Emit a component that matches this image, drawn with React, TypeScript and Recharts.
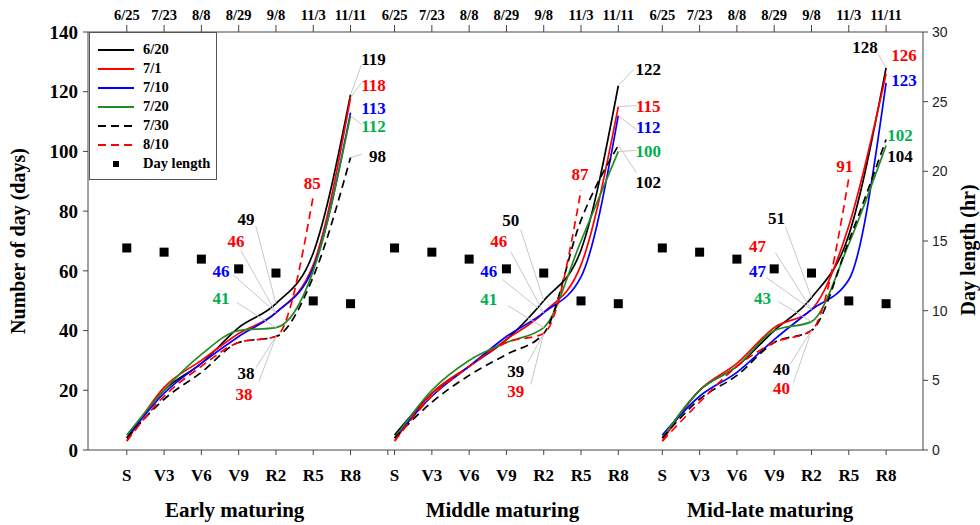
import React from "react";
import { ComposedChart, Line, Scatter, XAxis, YAxis, ReferenceDot, Legend } from "recharts";

const stages = ["S", "V3", "V6", "V9", "R2", "R5", "R8"];
const stageDates = ["6/25", "7/23", "8/8", "8/29", "9/8", "11/3", "11/11"];
const panels = ["Early maturing", "Middle maturing", "Mid-late maturing"];
const sowings = ["6/20", "7/1", "7/10", "7/20", "7/30", "8/10"];

// days after sowing at each stage
const early620 = [4, 20, 29, 41, 49, 66, 119];
const early701 = [3, 21, 30, 39, 46, 62, 118];
const early710 = [4, 19, 29, 38, 46, 61, 113];
const early720 = [5, 20, 32, 40, 41, 60, 112];
const early730 = [4, 17, 26, 36, 38, 58, 98];
const early810 = [3, 18, 28, 36, 38, 85, null];

const middle620 = [5, 19, 28, 37, 50, 67, 122];
const middle701 = [3, 19, 28, 37, 46, 62, 115];
const middle710 = [4, 18, 28, 38, 46, 58, 112];
const middle720 = [4, 20, 30, 36, 41, 70, 100];
const middle730 = [4, 16, 25, 32, 39, 77, 102];
const middle810 = [3, 18, 28, 36, 39, 87, null];

const late620 = [4, 20, 28, 40, 51, 72, 128];
const late701 = [3, 20, 29, 41, 47, 75, 126];
const late710 = [5, 18, 26, 37, 47, 57, 123];
const late720 = [4, 20, 28, 40, 43, 69, 102];
const late730 = [4, 17, 25, 36, 40, 70, 104];
const late810 = [3, 16, 28, 36, 40, 91, null];

const dayLength = [14.5, 14.2, 13.7, 13.0, 12.7, 10.7, 10.5];

const values = [
  [early620, early701, early710, early720, early730, early810],
  [middle620, middle701, middle710, middle720, middle730, middle810],
  [late620, late701, late710, late720, late730, late810],
];

const SERIF = "'Liberation Serif', 'Times New Roman', Times, serif";
const SANS = "'Liberation Sans', Arial, sans-serif";
const lineColors = ["#000000", "#ff0000", "#0000ff", "#228b22", "#000000", "#ff0000"];
const labelColors = ["#000000", "#ff0000", "#0000ff", "#00b050", "#000000", "#ff0000"];
const dashes = [undefined, undefined, undefined, undefined, "8 5", "8 5"];

// callouts: panel, series, stage, text offset, leader end offset
const callouts = [
  { p: 0, k: 0, s: 6, dx: 23, dy: -35, lx: 11, ly: -30 },
  { p: 0, k: 1, s: 6, dx: 23, dy: -12, lx: 11, ly: -15 },
  { p: 0, k: 2, s: 6, dx: 23, dy: -4 },
  { p: 0, k: 3, s: 6, dx: 23, dy: 11, lx: 11, ly: 9 },
  { p: 0, k: 4, s: 6, dx: 27, dy: -1, lx: 11, ly: -3 },
  { p: 0, k: 5, s: 5, dx: -1, dy: -13 },
  { p: 0, k: 0, s: 4, dx: -30, dy: -84, lx: -20, ly: -77 },
  { p: 0, k: 1, s: 4, dx: -40, dy: -71, lx: -35, ly: -62 },
  { p: 0, k: 2, s: 4, dx: -55, dy: -41, lx: -43, ly: -38 },
  { p: 0, k: 3, s: 4, dx: -55, dy: -29, lx: -39, ly: -25 },
  { p: 0, k: 4, s: 4, dx: -30, dy: 37, lx: -20, ly: 31 },
  { p: 0, k: 5, s: 4, dx: -32, dy: 58, lx: -17, ly: 45 },

  { p: 1, k: 0, s: 6, dx: 30, dy: -16, lx: 15, ly: -16 },
  { p: 1, k: 1, s: 6, dx: 30, dy: 0, lx: 18, ly: -1 },
  { p: 1, k: 2, s: 6, dx: 30, dy: 12, lx: 18, ly: 14 },
  { p: 1, k: 3, s: 6, dx: 30, dy: 0, lx: 18, ly: -1 },
  { p: 1, k: 4, s: 6, dx: 30, dy: 37, lx: 18, ly: 27 },
  { p: 1, k: 5, s: 5, dx: -1, dy: -16 },
  { p: 1, k: 0, s: 4, dx: -33, dy: -80, lx: -23, ly: -71 },
  { p: 1, k: 1, s: 4, dx: -45, dy: -71, lx: -33, ly: -61 },
  { p: 1, k: 2, s: 4, dx: -55, dy: -41, lx: -41, ly: -33 },
  { p: 1, k: 3, s: 4, dx: -55, dy: -28, lx: -36, ly: -22 },
  { p: 1, k: 4, s: 4, dx: -28, dy: 38, lx: -16, ly: 29 },
  { p: 1, k: 5, s: 4, dx: -28, dy: 58, lx: -13, ly: 51 },

  { p: 2, k: 0, s: 6, dx: -21, dy: -20, lx: -8, ly: -14 },
  { p: 2, k: 1, s: 6, dx: 18, dy: -18 },
  { p: 2, k: 2, s: 6, dx: 18, dy: -2 },
  { p: 2, k: 3, s: 6, dx: 14, dy: -10 },
  { p: 2, k: 4, s: 6, dx: 14, dy: 17 },
  { p: 2, k: 5, s: 5, dx: -4, dy: -12 },
  { p: 2, k: 0, s: 4, dx: -35, dy: -79, lx: -26, ly: -71 },
  { p: 2, k: 1, s: 4, dx: -54, dy: -63, lx: -36, ly: -57 },
  { p: 2, k: 2, s: 4, dx: -54, dy: -38, lx: -45, ly: -32 },
  { p: 2, k: 3, s: 4, dx: -49, dy: -23, lx: -33, ly: -20 },
  { p: 2, k: 4, s: 4, dx: -30, dy: 39, lx: -21, ly: 33 },
  { p: 2, k: 5, s: 4, dx: -30, dy: 58, lx: -18, ly: 52 },
];

const STEP = 7.18;
const xOf = (p: number, s: number) => p * STEP + s;

const rows = panels.flatMap((_, p) =>
  stages.map((_, s) => {
    const row: Record<string, number | null> = { x: xOf(p, s), day: dayLength[s] };
    sowings.forEach((_, k) => {
      row[`p${p}s${k}`] = values[p][k][s];
    });
    return row;
  })
);
const stageTicks = rows.map((r) => r.x as number);
const bottomTicks = [...stageTicks, 7].sort((a, b) => a - b);

function locate(v: number) {
  const p = Math.floor((v + 0.5) / STEP);
  const s = Math.round(v - p * STEP);
  const exact = Math.abs(v - xOf(p, s)) < 0.01;
  return { p, s, exact };
}

function BottomTick(props: any) {
  const { x, y, payload } = props;
  const { p, s, exact } = locate(payload.value);
  if (!exact) return <g />;
  return (
    <g>
      <text x={x} y={y + 20} textAnchor="middle" dominantBaseline="central" fontFamily={SERIF} fontWeight={700} fontSize={17} fill="#000">
        {stages[s]}
      </text>
      {s === 3 && (
        <text x={x - 4} y={y + 55} textAnchor="middle" dominantBaseline="central" fontFamily={SERIF} fontWeight={700} fontSize={21} fill="#000">
          {panels[p]}
        </text>
      )}
    </g>
  );
}

function TopTick(props: any) {
  const { x, y, payload } = props;
  const { s } = locate(payload.value);
  return (
    <text x={x} y={y - 10} textAnchor="middle" dominantBaseline="central" fontFamily={SERIF} fontWeight={700} fontSize={14.5} fill="#000">
      {stageDates[s]}
    </text>
  );
}

function AxisTitle(props: any) {
  const { viewBox, text, tx, ty } = props;
  const cx = viewBox.x + tx;
  const cy = viewBox.y + viewBox.height / 2 + ty;
  return (
    <text x={cx} y={cy} transform={`rotate(-90 ${cx} ${cy})`} textAnchor="middle" dominantBaseline="central" fontFamily={SERIF} fontWeight={700} fontSize={20} fill="#000">
      {text}
    </text>
  );
}

function Callout(props: any) {
  const { cx, cy, c, text, color } = props;
  return (
    <g>
      {c.lx !== undefined && (
        <line x1={cx} y1={cy} x2={cx + c.lx} y2={cy + c.ly} stroke="#c8c8c8" strokeWidth={1} />
      )}
      <text x={cx + c.dx} y={cy + c.dy} textAnchor="middle" dominantBaseline="central" fontFamily={SERIF} fontWeight={700} fontSize={17} fill={color}>
        {text}
      </text>
    </g>
  );
}

function LegendBox() {
  return (
    <div
      style={{
        width: 128,
        height: 148,
        boxSizing: "border-box",
        border: "1px solid #555",
        background: "#fff",
        padding: "7px 0 0 8px",
        fontFamily: SERIF,
        fontWeight: 700,
        fontSize: 14.5,
        color: "#000",
        lineHeight: "19px",
      }}
    >
      {sowings.map((name, k) => (
        <div key={name} style={{ display: "flex", alignItems: "center", height: 19 }}>
          <svg width={36} height={4} style={{ display: "block" }}>
            <line x1={0} x2={36} y1={2} y2={2} stroke={lineColors[k]} strokeWidth={1.8} strokeDasharray={dashes[k]} />
          </svg>
          <span style={{ marginLeft: 9 }}>{name}</span>
        </div>
      ))}
      <div style={{ display: "flex", alignItems: "center", height: 19 }}>
        <svg width={36} height={8} style={{ display: "block" }}>
          <rect x={15} y={1} width={6} height={6} fill="#000" />
        </svg>
        <span style={{ marginLeft: 9 }}>Day length</span>
      </div>
    </div>
  );
}

export default function App() {
  return (
    <div style={{ position: "absolute", left: 0, top: 0, background: "#fff" }}>
      <ComposedChart width={980} height={525} data={rows} margin={{ top: 0, right: 0, bottom: 0, left: 0 }}>
        <XAxis
          xAxisId="b"
          dataKey="x"
          type="number"
          domain={[-1.04, 21.35]}
          allowDataOverflow
          ticks={bottomTicks}
          interval={0}
          height={75}
          tick={<BottomTick />}
          tickSize={5}
          tickMargin={0}
          stroke="#444"
        />
        <XAxis
          xAxisId="t"
          dataKey="x"
          type="number"
          orientation="top"
          domain={[-1.04, 21.35]}
          allowDataOverflow
          ticks={stageTicks}
          interval={0}
          height={32}
          tick={<TopTick />}
          tickSize={7}
          tickMargin={0}
          stroke="#444"
        />
        <YAxis
          yAxisId="left"
          domain={[0, 140]}
          ticks={[0, 20, 40, 60, 80, 100, 120, 140]}
          width={88}
          tickSize={5}
          tickMargin={5}
          stroke="#444"
          tick={{ fontFamily: SERIF, fontWeight: 700, fontSize: 19, fill: "#000" }}
          label={<AxisTitle text="Number of day (days)" tx={18} ty={0} />}
        />
        <YAxis
          yAxisId="right"
          orientation="right"
          domain={[0, 30]}
          ticks={[0, 5, 10, 15, 20, 25, 30]}
          width={57}
          tickSize={5}
          tickMargin={4}
          stroke="#444"
          tick={{ fontFamily: SANS, fontSize: 14, fill: "#222" }}
          label={<AxisTitle text="Day length (hr)" tx={45} ty={9} />}
        />
        {panels.map((_, p) =>
          sowings.map((name, k) => (
            <Line
              key={`p${p}s${k}`}
              xAxisId="b"
              yAxisId="left"
              dataKey={`p${p}s${k}`}
              name={name}
              type="monotone"
              stroke={lineColors[k]}
              strokeWidth={1.7}
              strokeDasharray={dashes[k]}
              dot={false}
              activeDot={false}
              connectNulls={false}
              isAnimationActive={false}
              legendType="none"
            />
          ))
        )}
        <Scatter
          xAxisId="t"
          yAxisId="right"
          dataKey="day"
          name="Day length"
          isAnimationActive={false}
          shape={(pr: any) => <rect x={pr.cx - 4.5} y={pr.cy - 4.5} width={9} height={9} fill="#000" />}
        />
        {callouts.map((c, i) => {
          const v = values[c.p][c.k][c.s] as number;
          return (
            <ReferenceDot
              key={i}
              xAxisId="b"
              yAxisId="left"
              x={xOf(c.p, c.s)}
              y={v}
              r={0}
              ifOverflow="visible"
              shape={(pr: any) => <Callout {...pr} c={c} text={String(v)} color={labelColors[c.k]} />}
            />
          );
        })}
        <Legend
          layout="horizontal"
          verticalAlign="middle"
          align="center"
          content={() => <LegendBox />}
          wrapperStyle={{ left: 89, top: 32, width: "auto", height: "auto" }}
        />
      </ComposedChart>
    </div>
  );
}
